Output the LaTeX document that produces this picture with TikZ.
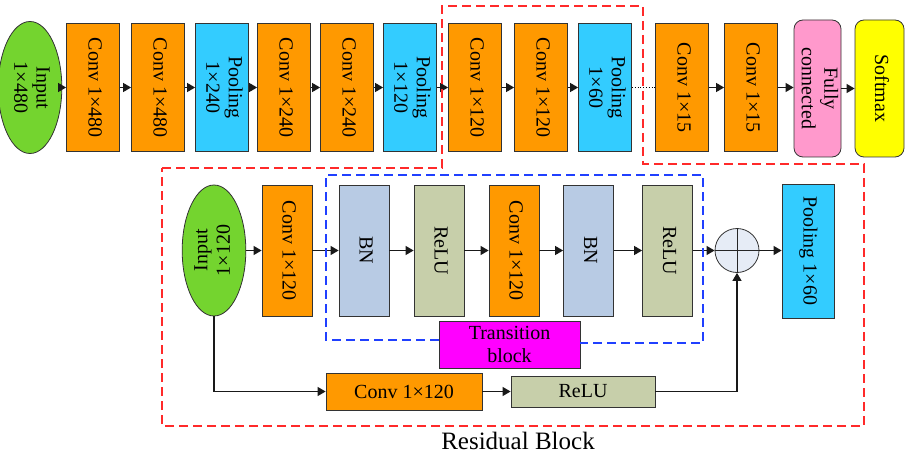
\documentclass[tikz,border=0pt]{standalone}
\usepackage{fontspec}
\setmainfont{Liberation Serif}
\usetikzlibrary{arrows.meta,shapes.geometric}
\definecolor{convc}{HTML}{FF9900}
\definecolor{poolc}{HTML}{33CCFF}
\definecolor{inc}{HTML}{74D42F}
\definecolor{fcc}{HTML}{FF99CC}
\definecolor{smc}{HTML}{FFFF00}
\definecolor{bnc}{HTML}{B8CBE4}
\definecolor{reluc}{HTML}{C7CFAA}
\definecolor{trc}{HTML}{FF00FF}
\definecolor{addc}{HTML}{E6ECF6}
\definecolor{resred}{HTML}{FF2A2A}
\definecolor{trblue}{HTML}{2040FF}
\newcommand\vlab[1]{\rotatebox{-90}{\begin{tabular}{@{}c@{}}#1\end{tabular}}}
\newcommand\ulab[1]{\rotatebox{90}{\begin{tabular}{@{}c@{}}#1\end{tabular}}}

\begin{document}
\begin{tikzpicture}[x=1pt,y=-1pt,font=\fontsize{20}{22.5}\selectfont,
  box/.style={draw=black!80,line width=.8pt,inner sep=0pt,minimum width=53pt,minimum height=128pt},
  bbox/.style={box,minimum width=50pt,minimum height=131pt},
  inp/.style={ellipse,draw=black!80,line width=.8pt,fill=inc,inner sep=0pt},
  arr/.style={-{Triangle[length=8pt,width=9pt]},line width=1.2pt,black!90},
  dashline/.style={dash pattern=on 9pt off 5pt,line width=1.2pt}]
\useasboundingbox (0,0) rectangle (907,457);
% main network
\node[inp,minimum width=48pt,minimum height=132pt] (in1) at (30,87.5){\vlab{Input\\1×480}};
\foreach \n/\x/\c/\t in {c1/93/convc/{Conv 1×480},c2/158/convc/{Conv 1×480},
    p1/222/poolc/{Pooling\\1×240},c3/284/convc/{Conv 1×240},c4/347/convc/{Conv 1×240},
    p2/410/poolc/{Pooling\\1×120},c5/475/convc/{Conv 1×120},c6/541/convc/{Conv 1×120},
    p3/605/poolc/{Pooling\\1×60},c7/682/convc/{Conv 1×15},c8/751/convc/{Conv 1×15}}
  \node[box,fill=\c] (\n) at (\x,87.5){\vlab{\t}};
\node[box,fill=fcc,rounded corners=9pt,minimum width=47pt,minimum height=137pt] (fc) at (817.5,88.5){\vlab{Fully\\connected}};
\node[box,fill=smc,rounded corners=9pt,minimum width=49pt,minimum height=137pt] (sm) at (879.5,88.5){\vlab{Softmax}};
\foreach \a/\b in {in1/c1,c1/c2,c2/p1,p1/c3,c3/c4,c4/p2,p2/c5,c5/c6,c6/p3,c7/c8,c8/fc,fc/sm}
  \draw[arr] (\a.east) -- (\a.east -| \b.west);
\draw[dotted,line width=.8pt] (p3.east) -- (c7.west);
\draw[resred,dashline] (162,168) -- (442,168) -- (442,6) -- (643,6) -- (643,164) -- (864,164) -- (864,426) -- (162,426) -- cycle;
% residual block
\node[inp,minimum width=50pt,minimum height=131pt] (in2) at (214,250.5){\ulab{Input\\1×120}};
\foreach \n/\x/\c/\t in {bc1/287/convc/{Conv 1×120},bn1/364/bnc/BN,rl1/439/reluc/ReLU,
    bc2/514/convc/{Conv 1×120},bn2/588.5/bnc/BN,rl2/667.5/reluc/ReLU}
  \node[bbox,fill=\c] (\n) at (\x,250.5){\vlab{\t}};
\node[circle,draw=black!80,line width=.8pt,fill=addc,minimum size=44pt,inner sep=0pt] (add) at (737,250.5){};
\draw[line width=1pt,black!85] (add.north) -- (add.south) (add.west) -- (add.east);
\node[bbox,fill=poolc,minimum width=52pt,minimum height=134pt] (pl) at (808,251){\vlab{Pooling 1×60}};
\foreach \a/\b in {in2/bc1,bc1/bn1,bn1/rl1,rl1/bc2,bc2/bn2,bn2/rl2,rl2/add,add/pl}
  \draw[arr] (\a.east) -- (\a.east -| \b.west);
\node[box,fill=trc,align=center,minimum width=141pt,minimum height=47pt] (tr) at (509.5,344.5){Transition\\block};
\draw[trblue,dashline] (tr.west |- 0,340) -| (326,175) -| (703,343) -- (tr.east |- 0,343);
\node[box,fill=convc,minimum width=156pt,minimum height=37pt] (sc) at (404,391.5){Conv 1×120};
\node[box,fill=reluc,minimum width=144pt,minimum height=31pt] (sr) at (583,391.5){ReLU};
\draw[arr] (in2.south) |- (sc.west);
\draw[arr] (sc) -- (sr);
\draw[arr] (sr.east) -| (add.south);
\node[font=\fontsize{25}{28}\selectfont] (rb) at (518,441){Residual Block};
\end{tikzpicture}
\end{document}
